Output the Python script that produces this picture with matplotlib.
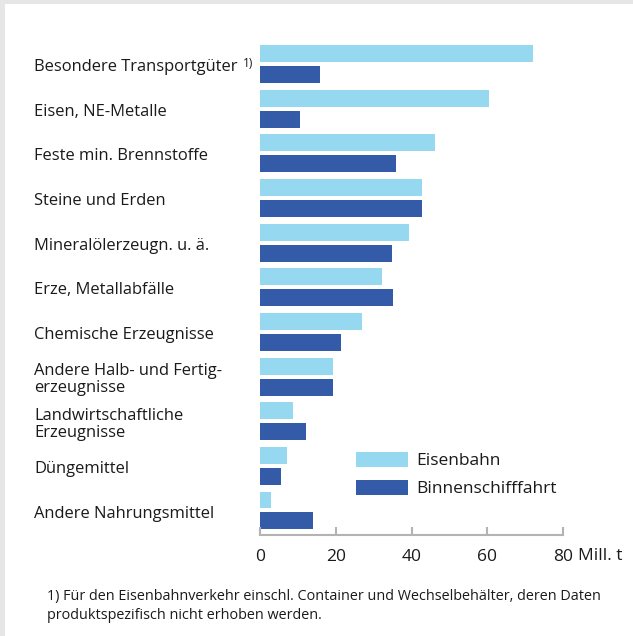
import matplotlib.pyplot as plt
import matplotlib.transforms as mtransforms
from matplotlib.patches import Rectangle
import numpy as np

plt.rcParams['font.family'] = ['Open Sans', 'DejaVu Sans']

# Daten (Mill. t)
kategorien = ['Besondere Transportgüter', 'Eisen, NE-Metalle', 'Feste min. Brennstoffe',
              'Steine und Erden', 'Mineralölerzeugn. u. ä.', 'Erze, Metallabfälle',
              'Chemische Erzeugnisse', 'Andere Halb- und Fertig-\nerzeugnisse',
              'Landwirtschaftliche\nErzeugnisse', 'Düngemittel', 'Andere Nahrungsmittel']
eisenbahn = [72, 60.4, 46.2, 42.7, 39.3, 32.2, 26.9, 19.3, 8.7, 7.1, 2.9]
binnenschiff = [15.8, 10.6, 35.9, 42.7, 34.8, 35.1, 21.4, 19.3, 12.1, 5.5, 14.0]
xticks = [0, 20, 40, 60, 80]

hell = '#95d8f0'
dunkel = '#335ba8'
grau = '#b3b3b3'
textfarbe = '#1a1a1a'

W, H = 633, 636
fig = plt.figure(figsize=(W / 100, H / 100), dpi=100)
fig.patch.set_facecolor('#e6e6e6')
# weisses Panel
fig.patches.append(Rectangle((5 / W, 0), 1, 1 - 4 / H, transform=fig.transFigure,
                             facecolor='white', edgecolor='none', zorder=-5))

ax = fig.add_axes([260 / W, 1 - 535 / H, (563 - 260) / W, (535 - 40) / H])
ax.set_facecolor('none')

y = np.arange(len(kategorien))
bh = 0.38
off = 0.235
ax.barh(y - off, eisenbahn, height=bh, color=hell, label='Eisenbahn')
ax.barh(y + off, binnenschiff, height=bh, color=dunkel, label='Binnenschifffahrt')

ax.set_xlim(0, 80)
ax.set_ylim(10.549, -0.5375)
ax.set_yticks([])
ax.set_xticks(xticks)
ax.set_xticklabels([str(v) for v in xticks], fontsize=12.5, color=textfarbe)
ax.tick_params(axis='x', direction='in', length=6, width=1.5, color=grau, pad=10)
for s in ['top', 'right', 'left']:
    ax.spines[s].set_visible(False)
ax.spines['bottom'].set_color(grau)
ax.spines['bottom'].set_linewidth(1.5)

# Einheit hinter der 80
ax.annotate('Mill. t', xy=(80, 0), xycoords=('data', 'axes fraction'),
            xytext=(10.5, -9.5), textcoords='offset points', ha='left', va='top',
            fontsize=12.5, color=textfarbe)

# Kategorienbeschriftung links
trans = mtransforms.blended_transform_factory(fig.transFigure, ax.transData)
labels = []
for i, k in enumerate(kategorien):
    t = ax.text(34 / W, i + 0.07, k, transform=trans, ha='left', va='center',
                fontsize=11.9, color=textfarbe, linespacing=1.05)
    labels.append(t)

fig.canvas.draw()
bb = labels[0].get_window_extent()
fig.text((bb.x1 + 5) / W, (bb.y1 + 2) / H, '1)', fontsize=8.5, color=textfarbe,
         ha='left', va='top')

leg = ax.legend(loc='upper left', bbox_to_anchor=(356 / W, 1 - 452 / H),
                bbox_transform=fig.transFigure, frameon=False, fontsize=12.5,
                handlelength=3.0, handleheight=0.95, handletextpad=0.45,
                labelspacing=0.6, borderpad=0, borderaxespad=0)
for t in leg.get_texts():
    t.set_color(textfarbe)

fig.text(47 / W, 1 - 606 / H,
         '1) Für den Eisenbahnverkehr einschl. Container und Wechselbehälter, deren Daten\n'
         'produktspezifisch nicht erhoben werden.',
         fontsize=10.4, color=textfarbe, ha='left', va='center', linespacing=1.3)

fig.savefig('out.png', dpi=100)
